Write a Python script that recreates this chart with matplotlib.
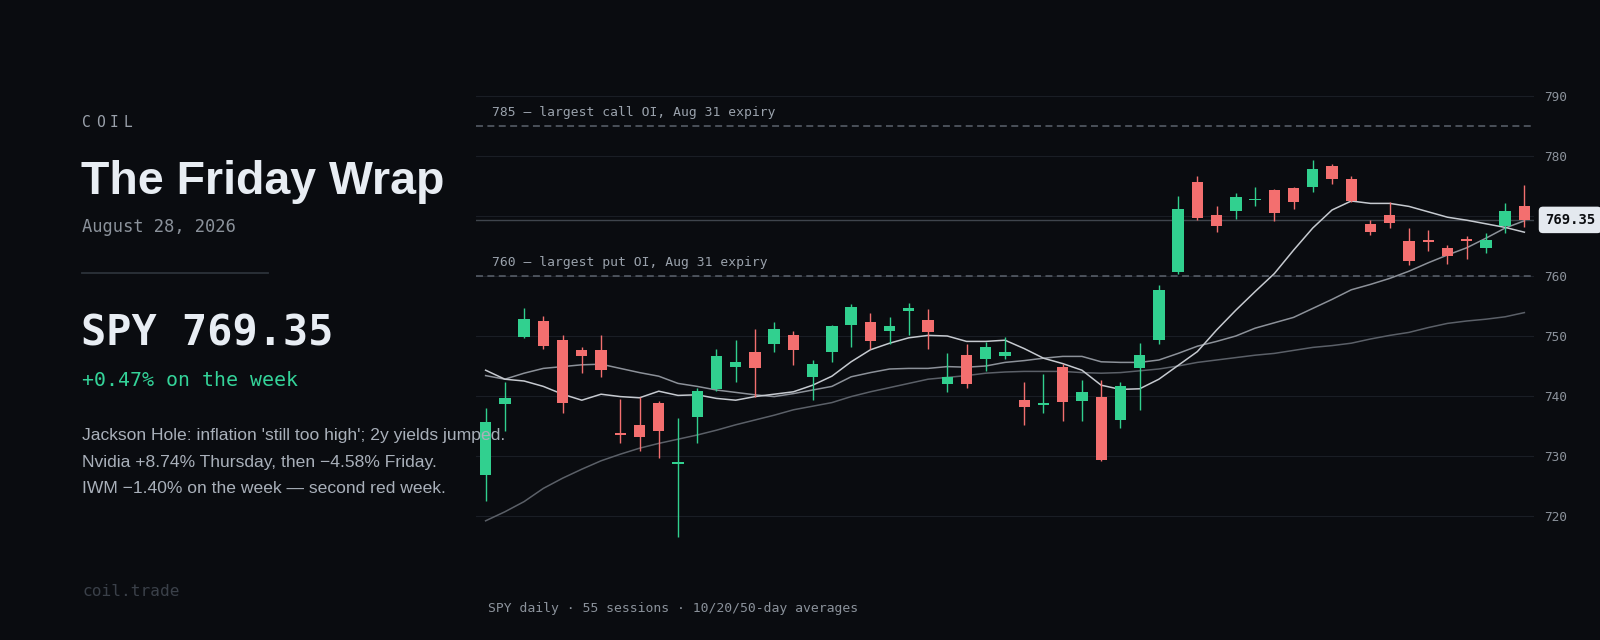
import matplotlib
matplotlib.use("Agg")
import matplotlib.pyplot as plt
import matplotlib.transforms as mtransforms
import numpy as np

# --- data (55 daily sessions) ---
opens = [726.8, 738.7, 749.8, 752.5, 749.3, 747.7, 747.6, 733.7, 735.1, 738.8,
         728.7, 736.5, 741.2, 744.9, 747.3, 748.7, 750.1, 743.1, 747.3, 751.9,
         752.3, 750.8, 754.2, 752.6, 742.0, 746.9, 746.2, 746.6, 739.3, 738.5,
         744.8, 739.1, 739.8, 736.0, 744.6, 749.4, 760.6, 775.7, 770.1, 770.9,
         772.6, 774.4, 774.6, 774.8, 778.4, 776.1, 768.6, 770.2, 765.8, 765.9,
         764.6, 766.1, 764.6, 768.3, 771.6]
highs = [738.0, 742.4, 754.7, 753.4, 750.2, 748.1, 750.1, 739.5, 739.8, 739.2,
         736.4, 741.4, 747.9, 749.3, 751.2, 752.3, 750.8, 746.0, 751.8, 755.3,
         753.8, 753.2, 755.5, 754.5, 747.2, 748.6, 749.0, 749.9, 742.4, 743.6,
         745.4, 742.7, 742.7, 742.3, 748.8, 758.5, 773.3, 776.7, 771.7, 773.8,
         774.9, 774.5, 774.8, 779.3, 778.7, 776.7, 769.4, 772.3, 768.0, 767.7,
         765.1, 766.7, 767.2, 772.2, 775.2]
lows = [722.5, 734.1, 749.6, 747.9, 737.2, 743.8, 743.1, 732.2, 730.8, 729.6,
        716.5, 732.1, 740.9, 742.3, 739.9, 747.4, 745.1, 739.4, 745.6, 748.1,
        747.8, 748.6, 750.1, 747.8, 740.7, 741.4, 744.1, 746.2, 735.1, 737.2,
        735.8, 735.9, 729.1, 734.6, 737.6, 748.7, 760.4, 769.3, 767.4, 769.5,
        771.6, 769.1, 771.2, 774.0, 775.4, 772.4, 766.8, 768.0, 761.9, 764.1,
        762.0, 762.9, 763.8, 767.1, 768.2]
closes = [735.7, 739.7, 752.8, 748.3, 738.9, 746.7, 744.3, 733.5, 733.2, 734.2,
          728.9, 740.8, 746.6, 745.6, 744.7, 751.1, 747.6, 745.3, 751.6, 754.8,
          749.1, 751.7, 754.6, 750.6, 743.2, 742.0, 748.2, 747.3, 738.1, 738.8,
          739.0, 740.7, 729.4, 741.6, 746.9, 757.6, 771.2, 769.7, 768.4, 773.1,
          772.9, 770.5, 772.4, 777.8, 776.2, 772.5, 767.3, 768.9, 762.5, 765.7,
          763.4, 765.9, 766.0, 770.9, 769.35]

ma10 = [744.3, 742.8, 742.5, 741.6, 740.3, 739.3, 740.3, 739.9, 739.7, 740.8,
        740.1, 740.2, 739.6, 739.3, 739.9, 740.3, 740.7, 741.8, 743.3, 745.7,
        747.7, 748.8, 749.7, 750.1, 750.0, 749.1, 749.1, 749.3, 747.9, 746.3,
        745.4, 744.3, 741.8, 741.1, 741.2, 742.8, 745.1, 747.4, 751.0, 754.3,
        757.4, 760.4, 764.3, 768.0, 771.0, 772.5, 772.1, 772.1, 771.6, 770.7,
        769.8, 769.3, 768.7, 768.1, 767.3]
ma20 = [743.4, 742.8, 743.8, 744.6, 744.9, 745.2, 745.3, 744.6, 743.9, 743.3,
        742.1, 741.6, 741.0, 740.6, 740.2, 739.9, 740.4, 741.0, 741.6, 743.2,
        743.9, 744.5, 744.6, 744.6, 744.9, 744.8, 745.0, 745.6, 745.9, 746.3,
        746.6, 746.6, 745.7, 745.6, 745.6, 746.0, 747.1, 748.3, 749.1, 750.0,
        751.3, 752.2, 753.1, 754.6, 756.1, 757.7, 758.6, 759.6, 760.8, 762.2,
        763.5, 764.7, 766.3, 768.0, 769.2]
ma50 = [719.2, 720.7, 722.4, 724.6, 726.3, 727.8, 729.2, 730.3, 731.3, 732.1,
        732.8, 733.5, 734.3, 735.2, 736.0, 736.8, 737.7, 738.3, 738.9, 739.9,
        740.7, 741.4, 742.1, 742.8, 743.1, 743.4, 743.8, 744.0, 744.1, 744.1,
        744.1, 743.9, 743.8, 743.9, 744.2, 744.5, 745.0, 745.6, 746.0, 746.4,
        746.8, 747.1, 747.6, 748.1, 748.4, 748.8, 749.5, 750.1, 750.6, 751.4,
        752.1, 752.5, 752.8, 753.2, 753.9]

last_price = 769.35
oi_levels = [785, 760]
oi_labels = ["785 \u2014 largest call OI, Aug 31 expiry",
             "760 \u2014 largest put OI, Aug 31 expiry"]
price_ticks = [720, 730, 740, 750, 760, 770, 780, 790]
# 770 sits under the last-price tag, so its label is left blank
price_tick_labels = ["720", "730", "740", "750", "760", "", "780", "790"]

BG = "#0a0c10"
GREEN = "#31d08f"
RED = "#f36f6f"
MONO = "DejaVu Sans Mono"
SANS = "Liberation Sans"

plt.rcParams["lines.scale_dashes"] = False

fig = plt.figure(figsize=(16, 6.4), dpi=100, facecolor=BG)
ax = fig.add_axes([476 / 1600, 1 - 556 / 640, 1058 / 1600, 480 / 640])
ax.set_facecolor(BG)

x = np.arange(len(closes))
o = np.array(opens)
c = np.array(closes)
up = c >= o
cols = np.where(up, GREEN, RED)

# moving averages
ax.plot(x, ma50, color="#5b6068", lw=1.1, zorder=2)
ax.plot(x, ma20, color="#8c9199", lw=1.1, zorder=2)
ax.plot(x, ma10, color="#c6cad0", lw=1.1, zorder=2)

# candles
ax.vlines(x, lows, highs, colors=cols, lw=1.0, zorder=3)
body_h = np.maximum(np.abs(c - o), 0.3)
ax.bar(x, body_h, bottom=np.minimum(o, c), width=0.59, color=cols, zorder=4,
       linewidth=0)

# option-interest levels
for lvl, lab in zip(oi_levels, oi_labels):
    ax.axhline(lvl, color="#5c636d", lw=1.1, linestyle=(0, (5, 3.2)), zorder=1)
    ax.annotate(lab, xy=(16 / 1058, lvl), xycoords=("axes fraction", "data"),
                xytext=(0, 7), textcoords="offset points", va="baseline",
                ha="left", fontsize=9.4, family=MONO, color="#9aa2ac")

# last price line + tag
ax.axhline(last_price, color="#3f454d", lw=1.0, zorder=1)
tr = mtransforms.blended_transform_factory(ax.transAxes, ax.transData)
ax.text(1 + 11 / 1058, last_price, f"{last_price:.2f}", transform=tr,
        ha="left", va="center", fontsize=10, family=MONO, weight="bold",
        color="#0b0d10", clip_on=False,
        bbox=dict(boxstyle="round,pad=0.45,rounding_size=0.3", fc="#e4e9ef",
                  ec="none"), zorder=6)

ax.set_xlim(-0.5, len(closes) - 0.5)
ax.set_ylim(713.333, 793.333)
ax.set_yticks(price_ticks)
ax.set_yticklabels(price_tick_labels)
ax.yaxis.tick_right()
ax.tick_params(axis="y", length=0, pad=7.5, labelsize=9.2, labelcolor="#8b929b")
for lbl in ax.get_yticklabels():
    lbl.set_family(MONO)
ax.set_xticks([])
ax.grid(axis="y", color="#1a1e25", lw=0.8)
ax.set_axisbelow(True)
for s in ax.spines.values():
    s.set_visible(False)


def ftext(px, py, s, **kw):
    fig.text(px / 1600, 1 - py / 640, s, va="baseline", ha="left", **kw)


# left column
for k, ch in enumerate("COIL"):
    ftext(82 + 13.7 * k, 127, ch, fontsize=10.5, family=MONO, color="#9aa1ab")
ftext(81, 194, "The Friday Wrap", fontsize=33.5, family=SANS, weight="bold",
      color="#e8edf3")
ftext(82, 232, "August 28, 2026", fontsize=12.3, family=MONO, color="#8b929b")
fig.add_artist(plt.Line2D([82 / 1600, 268 / 1600], [1 - 273 / 640, 1 - 273 / 640],
                          color="#2c323a", lw=1.3))
ftext(81, 345, "SPY 769.35", fontsize=30.2, family=MONO, weight="bold",
      color="#e8edf3")
ftext(82, 386, "+0.47% on the week", fontsize=14.3, family=MONO, color="#34d399")

notes = ["Jackson Hole: inflation 'still too high'; 2y yields jumped.",
         "Nvidia +8.74% Thursday, then \u22124.58% Friday.",
         "IWM \u22121.40% on the week \u2014 second red week."]
for k, line in enumerate(notes):
    fig.text(82 / 1600, 1 - (440 + 26.7 * k) / 640, line, va="baseline",
             ha="left", fontsize=12.6, family=SANS, color="#a9b0ba", zorder=10)

ftext(82, 596, "coil.trade", fontsize=11.6, family=MONO, color="#3a4049")
ftext(488, 612, "SPY daily \u00b7 55 sessions \u00b7 10/20/50-day averages",
      fontsize=9.45, family=MONO, color="#8b929b")

fig.savefig("out.png", dpi=100, facecolor=BG)
